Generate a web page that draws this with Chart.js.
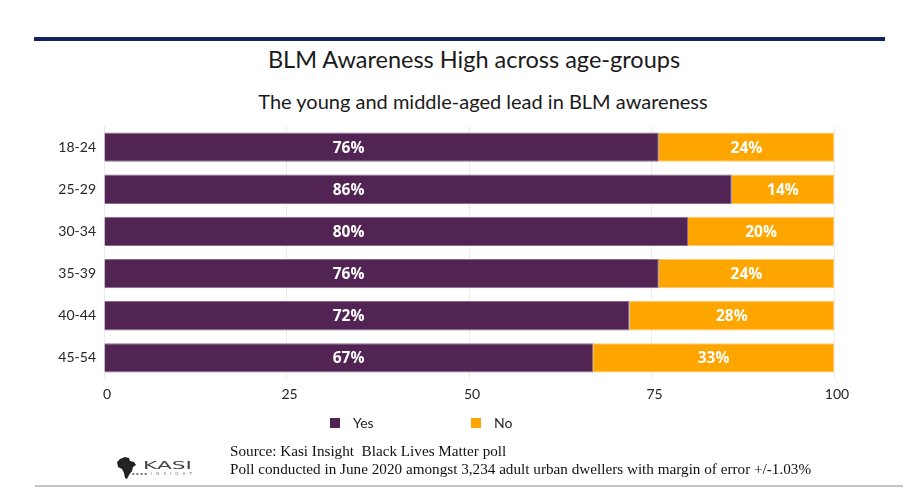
<!DOCTYPE html>
<html>
<head>
<meta charset="utf-8">
<script src="https://cdn.jsdelivr.net/npm/chart.js@4.4.0/dist/chart.umd.min.js"></script>
<style>
  body { margin: 0; background: #fff; }
  #wrap { position: relative; width: 918px; height: 502px; overflow: hidden; background: #fff; }
  #topline { position: absolute; left: 34px; top: 37px; width: 851px; height: 4px; background: #13235f; }
  #title { position: absolute; left: 0; top: 45px; width: 948px; text-align: center; font: 23.5px Lato, sans-serif; color: #1a1a1a; line-height: 28px; }
  #subtitle { position: absolute; left: 0; top: 89px; width: 966px; text-align: center; font: 20px Lato, sans-serif; color: #1a1a1a; line-height: 24px; }
  #chart { position: absolute; left: 0; top: 0; }
  #source { position: absolute; left: 230px; top: 442px; font: 15.2px "Liberation Serif", serif; line-height: 18px; color: #111; }
  #logo { position: absolute; left: 116px; top: 456px; }
  #bottomline { position: absolute; left: 35px; top: 485px; width: 868px; height: 2px; background: #c4c4c4; }
</style>
</head>
<body>
<div id="wrap">
  <div id="topline"></div>
  <div id="title">BLM Awareness High across age-groups</div>
  <div id="subtitle">The young and middle-aged lead in BLM awareness</div>
  <canvas id="chart" width="918" height="502"></canvas>
  <svg id="logo" width="82" height="24" viewBox="0 0 82 24">
    <path d="M4 3 L9 1 L13 2 L14 5 L18 6 L20 9 L17 11 L16 15 L13 19 L11 23 L9 22 L8 17 L6 13 L2 11 L1 6 Z" fill="#222"/>
    <text x="27" y="13" font-family="DejaVu Sans" font-size="10" fill="#444" textLength="49" lengthAdjust="spacingAndGlyphs">KASI</text>
    <text x="16" y="19" font-family="DejaVu Sans" font-size="4" fill="#777" textLength="60" lengthAdjust="spacing">▪▪▪▪ I N S I G H T</text>
  </svg>
  <div id="source">Source: Kasi Insight&nbsp; Black Lives Matter poll<br>Poll conducted in June 2020 amongst 3,234 adult urban dwellers with margin of error +/-1.03%</div>
  <div id="bottomline"></div>
</div>
<script>
const ages = ['18-24', '25-29', '30-34', '35-39', '40-44', '45-54']
const yes_data = [76, 86, 80, 76, 72, 67]
const no_data = [24, 14, 20, 24, 28, 33]
const series_names = ['Yes', 'No']
const series_colors = ['#522453', '#ffa500']
const border_colors = ['#8c6a8b', '#ffc966']

// percent labels inside the bars
const barLabels = {
  id: 'barLabels',
  afterDatasetsDraw(chart) {
    const ctx = chart.ctx
    const xs = chart.scales.x
    ctx.save()
    ctx.font = 'bold 15.5px "Open Sans"'
    ctx.fillStyle = '#ffffff'
    ctx.textAlign = 'center'
    ctx.textBaseline = 'middle'
    chart.data.datasets.forEach((ds, i) => {
      chart.getDatasetMeta(i).data.forEach((bar, j) => {
        let cx = (bar.base + bar.x) / 2
        if (i === 0) cx = xs.getPixelForValue(Math.min(...ds.data) / 2)
        ctx.fillText(ds.data[j] + '%', cx, bar.y + 1)
      })
    })
    ctx.restore()
  }
}

// legend under the axis, shifted left like the original
const smallLegend = {
  id: 'smallLegend',
  afterDraw(chart) {
    const ctx = chart.ctx
    const left = chart.chartArea.left + 226
    const y = 423
    ctx.save()
    ctx.font = '14px Lato'
    ctx.textBaseline = 'middle'
    ctx.textAlign = 'left'
    chart.data.datasets.forEach((ds, i) => {
      const x = left + i * 141
      ctx.fillStyle = ds.backgroundColor
      ctx.fillRect(x, y - 5, 10, 10)
      ctx.fillStyle = '#262626'
      ctx.fillText(ds.label, x + 23, y)
    })
    ctx.restore()
  }
}

new Chart(document.getElementById('chart'), {
  type: 'bar',
  data: {
    labels: ages,
    datasets: [
      {
        label: series_names[0],
        data: yes_data,
        backgroundColor: series_colors[0],
        borderColor: border_colors[0],
        borderWidth: 1,
        categoryPercentage: 0.8,
        barPercentage: 0.87,
      },
      {
        label: series_names[1],
        data: no_data,
        backgroundColor: series_colors[1],
        borderColor: border_colors[1],
        borderWidth: 1,
        categoryPercentage: 0.8,
        barPercentage: 0.87,
      },
    ]
  },
  options: {
    indexAxis: 'y',
    responsive: false,
    animation: false,
    layout: {
      padding: { top: 126, bottom: 93, left: 0, right: 84 }
    },
    plugins: {
      legend: { display: false },
      tooltip: { enabled: false },
    },
    scales: {
      x: {
        stacked: true,
        min: 0,
        max: 100,
        afterFit: scale => { scale.height = 30 },
        ticks: {
          stepSize: 25,
          color: '#262626',
          font: { family: 'Lato', size: 14 },
          padding: 7,
          labelOffset: 3,
        },
        grid: {
          color: '#ececec',
          drawTicks: false,
        },
        border: { display: false },
      },
      y: {
        stacked: true,
        afterFit: scale => { scale.width = 104 },
        ticks: {
          color: '#262626',
          font: { family: 'Lato', size: 14 },
          padding: 0,
        },
        grid: { display: false },
        border: { display: false },
      },
    },
  },
  plugins: [barLabels, smallLegend]
})
</script>
</body>
</html>
